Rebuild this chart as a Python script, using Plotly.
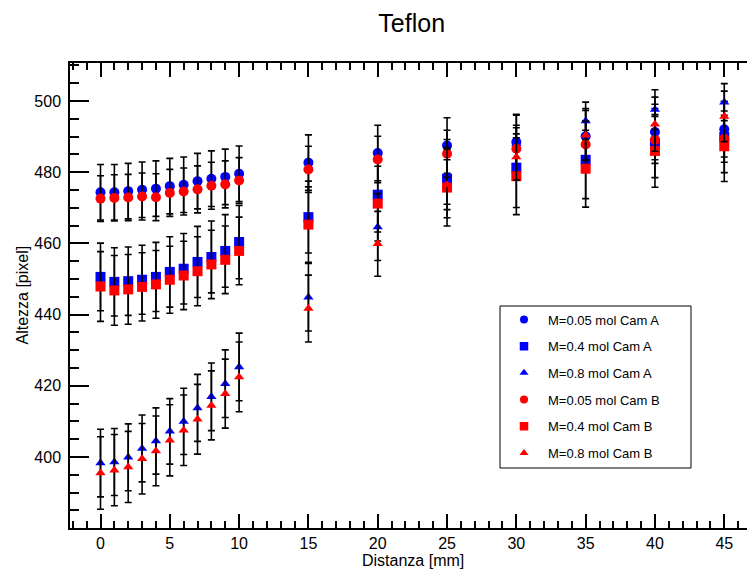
import plotly.graph_objects as go

# Distance from the reference edge [mm]
distanza = [0, 1, 2, 3, 4, 5, 6, 7, 8, 9, 10, 15, 20, 25, 30, 35, 40, 45]

# Measured height [pixel], camera A
alt_005_A = [474.4, 474.4, 474.7, 475.1, 475.4, 476.1, 476.5, 477.5, 478.2, 478.7, 479.6,
             482.7, 485.4, 487.5, 488.5, 490.1, 491.3, 492.1]
alt_04_A = [450.6, 449.2, 449.4, 449.8, 450.6, 452.0, 452.9, 454.8, 456.2, 457.9, 460.4,
            467.4, 473.7, 478.2, 481.3, 483.5, 488.2, 489.9]
alt_08_A = [398.3, 398.6, 399.9, 402.4, 404.5, 407.2, 410.0, 413.8, 416.9, 420.6, 425.3,
            444.9, 464.6, 479.0, 488.0, 494.4, 497.6, 499.7]

# Measured height [pixel], camera B
alt_005_B = [472.6, 472.8, 472.9, 473.2, 473.0, 474.2, 474.6, 475.2, 476.2, 476.6, 477.7,
             480.8, 483.6, 485.2, 486.6, 487.8, 489.1, 489.4]
alt_04_B = [447.9, 446.8, 447.1, 447.8, 448.5, 449.8, 451.0, 452.2, 454.1, 455.4, 457.9,
            465.3, 471.2, 475.7, 478.9, 481.0, 486.0, 487.3]
alt_08_B = [395.5, 396.3, 397.2, 399.5, 401.7, 404.7, 407.5, 410.6, 414.5, 417.8, 422.5,
            441.7, 459.9, 476.5, 484.3, 490.4, 493.5, 495.7]

# Uncertainties [pixel]
err_005_A = [7.8] * 18
err_04_A = [9.5, 9.6, 9.6, 9.7, 9.7, 9.9, 9.9, 10.0, 10.1, 10.2, 10.3,
            10.1, 10.5, 11.0, 11.2, 10.9, 9.7, 10.0]
err_08_A = [9.5, 9.4, 9.4, 9.4, 9.3, 9.2, 9.3, 9.4, 9.5, 9.5, 9.5,
            9.5, 9.4, 8.0, 8.0, 5.3, 5.6, 5.2]
err_005_B = [6.4, 6.5, 6.5, 6.6, 6.6, 6.6, 6.6, 6.6, 6.6, 6.6, 6.4,
             6.5, 6.5, 6.6, 6.6, 6.6, 6.6, 6.6]
err_04_B = [9.8, 9.8, 9.8, 9.6, 9.5, 9.4, 9.6, 9.7, 9.6, 9.5, 9.5,
            10.6, 10.5, 10.8, 10.8, 10.8, 10.2, 9.9]
err_08_B = [10.2, 10.0, 10.0, 9.9, 9.8, 10.0, 9.9, 9.8, 9.7, 9.7, 9.8,
            9.4, 9.1, 7.0, 6.5, 7.0, 7.6, 7.1]

etichette = ["M=0.05 mol Cam A", "M=0.4 mol Cam A", "M=0.8 mol Cam A",
             "M=0.05 mol Cam B", "M=0.4 mol Cam B", "M=0.8 mol Cam B"]
valori = [alt_005_A, alt_04_A, alt_08_A, alt_005_B, alt_04_B, alt_08_B]
errori = [err_005_A, err_04_A, err_08_A, err_005_B, err_04_B, err_08_B]

# Marker styles per concentration / camera
simboli = ["circle", "square", "triangle-up"] * 2
colori = ["#0000ff"] * 3 + ["#ff0000"] * 3
dim_punti = {"circle": 10, "square": 10, "triangle-up": 9}
dim_legenda = {"circle": 8, "square": 8.5, "triangle-up": 8}

FONT = "Liberation Sans, Arial, Helvetica, sans-serif"

fig = go.Figure()

for nome, y, e, sym, col in zip(etichette, valori, errori, simboli, colori):
    fig.add_trace(go.Scatter(
        x=distanza, y=y, mode="markers",
        marker=dict(symbol=sym, size=dim_punti[sym], color=col, line=dict(width=0)),
        error_y=dict(type="data", array=e, visible=True, color="black",
                     thickness=1.6, width=3.5),
        showlegend=False, hoverinfo="x+y",
    ))

# Legend entries
for nome, sym, col in zip(etichette, simboli, colori):
    fig.add_trace(go.Scatter(
        x=[None], y=[None], mode="markers", name=nome, legendgroup=nome,
        marker=dict(symbol=sym, size=dim_legenda[sym], color=col, line=dict(width=0)),
    ))

W, H = 747, 570
ML, MR, MT, MB = 70, 0, 63, 42
pw, ph = W - ML - MR, H - MT - MB


def px_x(p):
    return (p - ML) / pw


def px_y(p):
    return (H - MB - p) / ph


fig.update_layout(
    width=W, height=H,
    margin=dict(l=ML, r=MR, t=MT, b=MB, pad=0),
    paper_bgcolor="white", plot_bgcolor="white",
    font=dict(family=FONT, size=16, color="black"),
    title=dict(text="Teflon", x=411.7 / W, xref="container", xanchor="center",
               y=1 - 23 / H, yref="container", yanchor="middle",
               font=dict(family=FONT, size=25, color="black")),
    xaxis=dict(
        range=[-2.2, 46.64], showgrid=False, zeroline=False,
        showline=True, linecolor="black", linewidth=1.5, mirror="ticks",
        tickmode="linear", tick0=0, dtick=5,
        ticks="inside", ticklen=14, tickwidth=1.5, tickcolor="black",
        minor=dict(dtick=1, tick0=0, ticks="inside", ticklen=7, tickwidth=1.5,
                   tickcolor="black", showgrid=False),
        tickfont=dict(family=FONT, size=16, color="black"),
        ticklabelstandoff=0,
    ),
    yaxis=dict(
        range=[380.05, 510.7], showgrid=False, zeroline=False,
        showline=True, linecolor="black", linewidth=1.5, mirror=False,
        tickmode="linear", tick0=0, dtick=20,
        ticks="inside", ticklen=19, tickwidth=1.5, tickcolor="black",
        minor=dict(dtick=5, tick0=0, ticks="inside", ticklen=9, tickwidth=1.5,
                   tickcolor="black", showgrid=False),
        tickfont=dict(family=FONT, size=16, color="black"),
        ticklabelstandoff=4,
    ),
    yaxis2=dict(
        overlaying="y", side="right", anchor="x",
        range=[380.05, 510.7], showgrid=False, zeroline=False, showline=False,
        tickmode="linear", tick0=0, dtick=20, showticklabels=False,
        ticks="inside", ticklen=13, tickwidth=1.5, tickcolor="black",
        minor=dict(dtick=5, tick0=0, ticks="inside", ticklen=3, tickwidth=1.5,
                   tickcolor="black", showgrid=False),
    ),
    showlegend=True,
    legend=dict(
        x=px_x(500), y=px_y(304.5), xanchor="left", yanchor="top",
        xref="paper", yref="paper",
        bgcolor="rgba(0,0,0,0)", borderwidth=0,
        font=dict(family=FONT, size=13, color="black"),
        traceorder="grouped", tracegroupgap=6.8, itemwidth=38, itemclick=False,
    ),
    shapes=[dict(type="rect", xref="paper", yref="paper",
                 x0=px_x(500), x1=px_x(691), y0=px_y(468), y1=px_y(306),
                 line=dict(color="black", width=1), fillcolor="rgba(0,0,0,0)")],
    annotations=[
        dict(text="Distanza [mm]", xref="paper", yref="paper",
             x=px_x(412.5), y=px_y(560), xanchor="center", yanchor="middle",
             showarrow=False, font=dict(family=FONT, size=16, color="black")),
        dict(text="Altezza [pixel]", xref="paper", yref="paper",
             x=px_x(22), y=px_y(295.5), xanchor="center", yanchor="middle",
             textangle=-90, showarrow=False,
             font=dict(family=FONT, size=16, color="black")),
    ],
)

fig.write_html("out.html")
